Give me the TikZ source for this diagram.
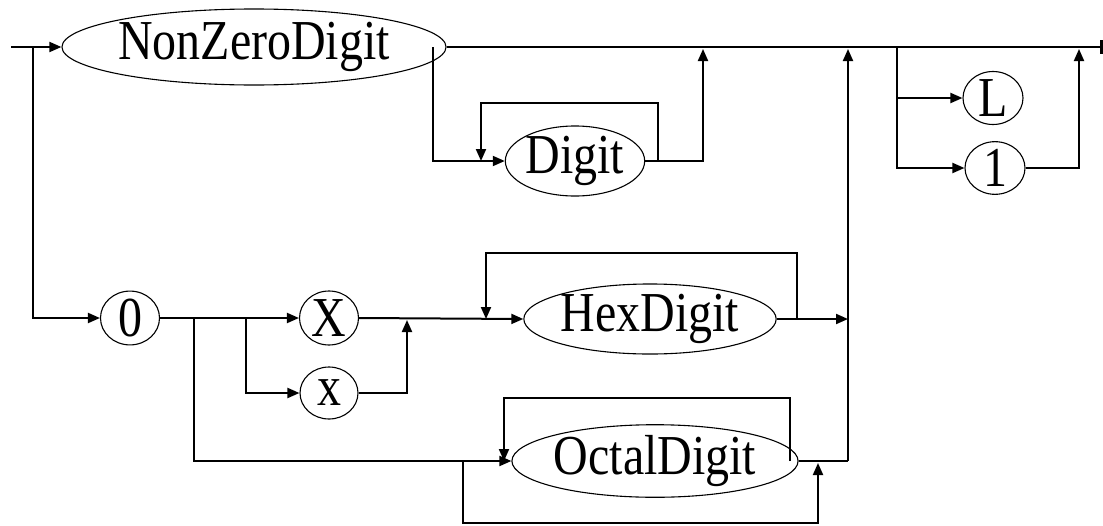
\documentclass[tikz,border=0pt]{standalone}
\usepackage{fontspec}
\usepackage{graphicx}
\setmainfont{Liberation Serif}
\usetikzlibrary{shapes.geometric,arrows.meta}
% labels are set a little taller than the plain face
\newcommand\tallsym[1]{\scalebox{1.02}[1.2]{#1}}
\begin{document}
\begin{tikzpicture}[x=1pt,y=-1pt,
  term/.style={ellipse,draw,line width=1.1pt,inner sep=0pt,
    font=\fontsize{47}{50}\selectfont},
  rail/.style={line width=2pt},
  arr/.style={rail,-{Triangle[length=12pt,width=10pt]}},
  tee/.style={rail,-{Bar[width=14pt,line width=3pt]}}]
\useasboundingbox (0,0) rectangle (1103,525);

% syntax elements
\node[term,minimum width=308pt,minimum height=76pt] (nz) at (254,47) {\tallsym{NonZeroDigit}};
\node[term,minimum width=137pt,minimum height=62pt] (dg) at (575,161) {\tallsym{Digit}};
\node[term,minimum width=60pt,minimum height=53pt] (L) at (993,98) {\tallsym{L}};
\node[term,minimum width=60pt,minimum height=52pt] (one) at (995,168) {\tallsym{1}};
\node[term,minimum width=59pt,minimum height=53pt] (zero) at (130,318) {\tallsym{0}};
\node[term,minimum width=59pt,minimum height=54pt] (X) at (329,318) {\tallsym{X}};
\node[term,minimum width=58pt,minimum height=52pt] (x) at (329,393) {\tallsym{x}};
\node[term,minimum width=235pt,minimum height=64pt] (hex) at (650,319) {\tallsym{HexDigit}};
\node[term,minimum width=245pt,minimum height=62pt] (oct) at (655,461) {\tallsym{OctalDigit}};

% entry and exit of the main rail
\coordinate (s) at (11,47);
\coordinate (e) at (1103,47);
\draw[arr] (s) -- (nz);
\draw[tee] (nz.east) -- (e);

% decimal: NonZeroDigit Digit*
\draw[arr] (433,47) |- (dg.west);
\draw[arr] (658,161) -- (658,103) -- (481,103) -- (481,161);
\draw[arr] (dg.east) -- (703,161) -- (703,49);

% octal / hex prefix
\draw[arr] (33,47) |- (zero.west);
\draw[arr] (zero.east) -- (X.west);
\draw[arr] (246,318) |- (x.west);
\draw[arr] (x.east) -| (407,320);
\draw[arr] (X.east) -- (hex.west);
\draw[arr] (797,319) -- (797,253) -- (486,253) -- (486,319);
\draw[arr] (hex.east) -- (848,319);

% octal digits
\draw[arr] (194,318) |- (oct.west);
\draw[arr] (790,461) -- (790,398) -- (504,398) -- (504,461);
\draw[arr] (463,461) -- (463,523) -- (818,523) -- (818,463);
\draw[rail] (oct.east) -- (848,461);
\draw[arr] (848,461) -- (848,49);

% long suffix
\draw[arr] (897,47) |- (one.west);
\draw[arr] (897,98) -- (L.west);
\draw[arr] (one.east) -| (1079,49);
\end{tikzpicture}
\end{document}
